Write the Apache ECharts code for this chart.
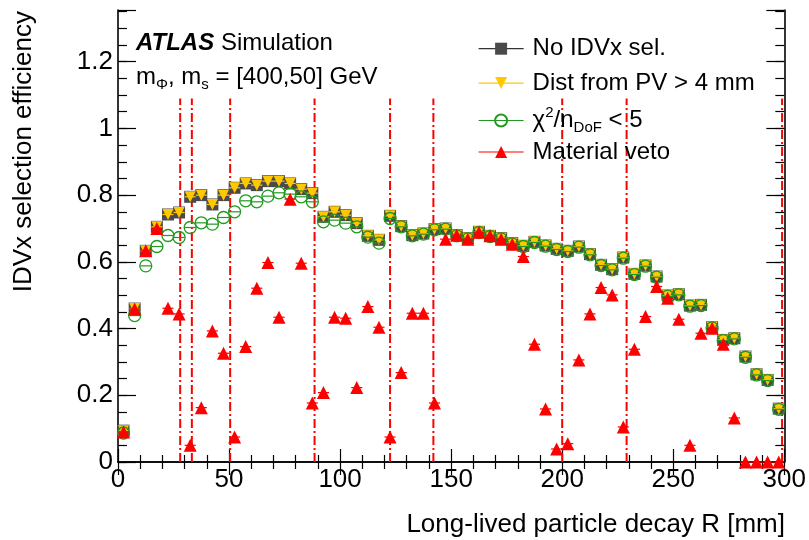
<!DOCTYPE html>
<html>
<head>
<meta charset="utf-8">
<script src="https://cdn.jsdelivr.net/npm/echarts@6/dist/echarts.min.js"></script>
<style>
html,body{margin:0;padding:0;background:#fff;}
#chart{width:809px;height:540px;}
</style>
</head>
<body>
<div id="chart"></div>
<script>
// ---- data ----
const binCenters = [2.5, 7.5, 12.5, 17.5, 22.5, 27.5, 32.5, 37.5, 42.5, 47.5,
  52.5, 57.5, 62.5, 67.5, 72.5, 77.5, 82.5, 87.5, 92.5, 97.5,
  102.5, 107.5, 112.5, 117.5, 122.5, 127.5, 132.5, 137.5, 142.5, 147.5,
  152.5, 157.5, 162.5, 167.5, 172.5, 177.5, 182.5, 187.5, 192.5, 197.5,
  202.5, 207.5, 212.5, 217.5, 222.5, 227.5, 232.5, 237.5, 242.5, 247.5,
  252.5, 257.5, 262.5, 267.5, 272.5, 277.5, 282.5, 287.5, 292.5, 297.5];
const binHalfWidth = 2.5;

const noSel = [0.094, 0.460, 0.633, 0.705, 0.742, 0.748, 0.795, 0.800, 0.772, 0.800,
  0.822, 0.835, 0.830, 0.842, 0.842, 0.835, 0.818, 0.806, 0.735, 0.750,
  0.740, 0.716, 0.678, 0.666, 0.738, 0.707, 0.680, 0.685, 0.698, 0.700,
  0.680, 0.671, 0.690, 0.678, 0.671, 0.656, 0.648, 0.660, 0.649, 0.639,
  0.633, 0.646, 0.623, 0.591, 0.578, 0.613, 0.564, 0.589, 0.556, 0.499,
  0.503, 0.469, 0.471, 0.404, 0.366, 0.371, 0.316, 0.263, 0.246, 0.160];

const distPV = [0.094, 0.460, 0.633, 0.705, 0.742, 0.748, 0.795, 0.800, 0.772, 0.800,
  0.822, 0.835, 0.830, 0.842, 0.842, 0.835, 0.818, 0.806, 0.735, 0.750,
  0.740, 0.716, 0.678, 0.666, 0.738, 0.707, 0.680, 0.685, 0.698, 0.700,
  0.680, 0.671, 0.690, 0.678, 0.671, 0.656, 0.648, 0.660, 0.649, 0.639,
  0.633, 0.646, 0.623, 0.591, 0.578, 0.613, 0.564, 0.589, 0.556, 0.499,
  0.503, 0.469, 0.471, 0.404, 0.366, 0.371, 0.316, 0.263, 0.246, 0.160];

const chi2 = [0.087, 0.439, 0.588, 0.646, 0.679, 0.673, 0.703, 0.717, 0.713, 0.733,
  0.750, 0.783, 0.780, 0.797, 0.807, 0.803, 0.795, 0.780, 0.720, 0.725,
  0.716, 0.705, 0.674, 0.656, 0.730, 0.705, 0.678, 0.683, 0.696, 0.698,
  0.678, 0.669, 0.688, 0.676, 0.669, 0.654, 0.646, 0.658, 0.647, 0.637,
  0.631, 0.644, 0.621, 0.589, 0.576, 0.611, 0.562, 0.587, 0.554, 0.497,
  0.501, 0.467, 0.469, 0.402, 0.364, 0.369, 0.314, 0.261, 0.244, 0.158];

const matVeto = [0.090, 0.459, 0.633, 0.700, 0.461, 0.444, 0.050, 0.163, 0.393, 0.326,
  0.075, 0.346, 0.521, 0.598, 0.434, 0.788, 0.596, 0.177, 0.208, 0.434,
  0.431, 0.223, 0.466, 0.404, 0.075, 0.268, 0.446, 0.446, 0.177, 0.668,
  0.680, 0.668, 0.689, 0.678, 0.668, 0.653, 0.616, 0.353, 0.159, 0.039,
  0.055, 0.306, 0.444, 0.523, 0.501, 0.105, 0.338, 0.436, 0.526, 0.491,
  0.428, 0.050, 0.386, 0.401, 0.353, 0.132, 0.000, 0.000, 0.000, 0.000];

// detector layer radii (vertical dash-dotted lines)
const layerR = [28, 33.25, 50.5, 88.5, 122.5, 142, 200, 229, 299];

const xTicks = [0, 50, 100, 150, 200, 250, 300];
const yTicks = [0, 0.2, 0.4, 0.6, 0.8, 1, 1.2];

const seriesNames = ['No IDVx sel.', 'Dist from PV > 4 mm', 'χ2/nDoF < 5', 'Material veto'];

// ---- styling ----
const FONT = '"Liberation Sans", Arial, Helvetica, sans-serif';
const cGray = '#4a4a4a', cYel = '#ffc800', cGrn = '#1e9a1e', cRed = '#ff0000';

function pts(vals) { return binCenters.map((r, i) => [r, vals[i]]); }

function errSeries(vals, color, z) {
  return {
    type: 'custom', xAxisIndex: 0, yAxisIndex: 0, z: z, silent: true,
    data: pts(vals),
    renderItem: function (params, api) {
      const r = api.value(0), v = api.value(1);
      const p1 = api.coord([r - binHalfWidth, v]);
      const p2 = api.coord([r + binHalfWidth, v]);
      return { type: 'line', shape: { x1: p1[0], y1: p1[1], x2: p2[0], y2: p2[1] },
        style: { stroke: color, lineWidth: 1.2 } };
    }
  };
}

function markerSeries(name, vals, symbol, size, itemStyle, lineColor, rotate, z) {
  return {
    name: name, type: 'line', xAxisIndex: 0, yAxisIndex: 0, z: z,
    data: pts(vals), symbol: symbol, symbolSize: size, symbolRotate: rotate || 0,
    showSymbol: true, clip: false,
    lineStyle: { width: 0, color: lineColor },
    itemStyle: itemStyle,
    emphasis: { disabled: true }, silent: true, animation: false
  };
}

const yLabelFmt = v => (yTicks.some(t => Math.abs(t - v) < 1e-6)) ? String(+v.toFixed(2)) : '';
const xLabelFmt = v => xTicks.indexOf(Math.round(v)) >= 0 && Math.abs(v - Math.round(v)) < 1e-6 ? String(Math.round(v)) : '';

const axisLineStyle = { show: true, lineStyle: { color: '#000', width: 1.6 } };

function yAx(pos, interval, tickLen, labels, line) {
  return {
    type: 'value', position: pos, min: 0, max: 1.355, interval: interval,
    axisLine: line ? axisLineStyle : { show: false },
    axisTick: { show: true, inside: true, length: tickLen, lineStyle: { color: '#000', width: 1.2 } },
    axisLabel: labels ? { show: true, formatter: yLabelFmt, fontFamily: FONT, fontSize: 26, color: '#000', margin: 5, showMaxLabel: false } : { show: false },
    splitLine: { show: false }
  };
}
function xAx(pos, labels) {
  return {
    type: 'value', position: pos, min: 0, max: 300, interval: 50,
    axisLine: axisLineStyle,
    axisTick: { show: true, inside: true, length: 13, lineStyle: { color: '#000', width: 1.2 } },
    minorTick: { show: true, splitNumber: 5, length: 7, lineStyle: { color: '#000', width: 1.2 } },
    axisLabel: labels ? { show: true, formatter: xLabelFmt, fontFamily: FONT, fontSize: 26, color: '#000', margin: 5 } : { show: false },
    splitLine: { show: false }
  };
}

const legendRowCenters = [51.7, 86.1, 120.5, 155];
const legendRich = {
  m: { fontFamily: FONT, fontSize: 24, color: '#000', lineHeight: 30, verticalAlign: 'middle' },
  sup: { fontFamily: FONT, fontSize: 15, color: '#000', lineHeight: 18, verticalAlign: 'top' },
  sub: { fontFamily: FONT, fontSize: 15, color: '#000', lineHeight: 8, verticalAlign: 'bottom' }
};
const legendLabel = {
  'No IDVx sel.': '{m|No IDVx sel.}',
  'Dist from PV > 4 mm': '{m|Dist from PV > 4 mm}',
  'χ2/nDoF < 5': '{m|χ}{sup|2}{m|/n}{sub|DoF}{m| < 5}',
  'Material veto': '{m|Material veto}'
};
const legends = seriesNames.map((n, i) => ({
  data: [n], left: 478, top: legendRowCenters[i] - 15, orient: 'vertical',
  padding: 0, itemWidth: 45, itemHeight: 15, selectedMode: false,
  formatter: name => legendLabel[name],
  textStyle: { fontFamily: FONT, fontSize: 24, color: '#000', padding: [0, 0, 0, 4], rich: legendRich },
  lineStyle: { width: 1.2, opacity: 1 }
}));

const option = {
  backgroundColor: '#fff',
  animation: false,
  grid: { left: 118, right: 24, top: 10, bottom: 78, containLabel: false },
  xAxis: [xAx('bottom', true), xAx('top', false)],
  yAxis: [yAx('left', 0.05, 9, true, true), yAx('left', 0.2, 18, false, false),
          yAx('right', 0.05, 9, false, true), yAx('right', 0.2, 18, false, false)],
  legend: legends,
  graphic: [
    { type: 'text', x: 785, y: 525, silent: true,
      style: { text: 'Long-lived particle decay R [mm]', font: '26px ' + FONT, fill: '#000', textAlign: 'right', textVerticalAlign: 'middle' } },
    { type: 'text', x: 24, y: 11, rotation: Math.PI / 2, silent: true,
      style: { text: 'IDVx selection efficiency', font: '26px ' + FONT, fill: '#000', textAlign: 'right', textVerticalAlign: 'middle' } },
    { type: 'text', x: 136, y: 28, silent: true,
      style: { text: '{b|ATLAS}{n| Simulation}', textVerticalAlign: 'top',
        rich: { b: { fontFamily: FONT, fontSize: 24, fontWeight: 'bold', fontStyle: 'italic', fill: '#000', lineHeight: 30 },
                n: { fontFamily: FONT, fontSize: 24, fill: '#000', lineHeight: 30 } } } },
    { type: 'text', x: 136, y: 62, silent: true,
      style: { text: '{m|m}{s|Φ}{m|, m}{s|s}{m| = [400,50] GeV}', textVerticalAlign: 'top',
        rich: { m: { fontFamily: FONT, fontSize: 24, fill: '#000', lineHeight: 30, verticalAlign: 'middle' },
                s: { fontFamily: FONT, fontSize: 15, fill: '#000', lineHeight: 8, verticalAlign: 'bottom' } } } }
  ],
  series: [
    {
      type: 'custom', xAxisIndex: 0, yAxisIndex: 0, z: 1, silent: true,
      data: layerR.map(r => [r]),
      renderItem: function (params, api) {
        const r = api.value(0);
        const p1 = api.coord([r, 0]);
        const p2 = api.coord([r, 1.09]);
        return { type: 'line', shape: { x1: p1[0], y1: p1[1], x2: p2[0], y2: p2[1] },
          style: { stroke: cRed, lineWidth: 2, lineDash: [9, 3, 2, 3] } };
      }
    },
    errSeries(noSel, cGray, 2),
    markerSeries(seriesNames[0], noSel, 'rect', 12, { color: cGray }, '#333', 0, 3),
    errSeries(distPV, cYel, 4),
    markerSeries(seriesNames[1], distPV, 'triangle', 11, { color: cYel }, cYel, 180, 5),
    errSeries(chi2, cGrn, 6),
    markerSeries(seriesNames[2], chi2, 'circle', 12, { color: 'rgba(255,255,255,0)', borderColor: cGrn, borderWidth: 1.3 }, cGrn, 0, 7),
    errSeries(matVeto, cRed, 8),
    markerSeries(seriesNames[3], matVeto, 'triangle', 13, { color: cRed }, cRed, 0, 9)
  ]
};

const chart = echarts.init(document.getElementById('chart'), null, { renderer: 'canvas' });
chart.setOption(option);
</script>
</body>
</html>
